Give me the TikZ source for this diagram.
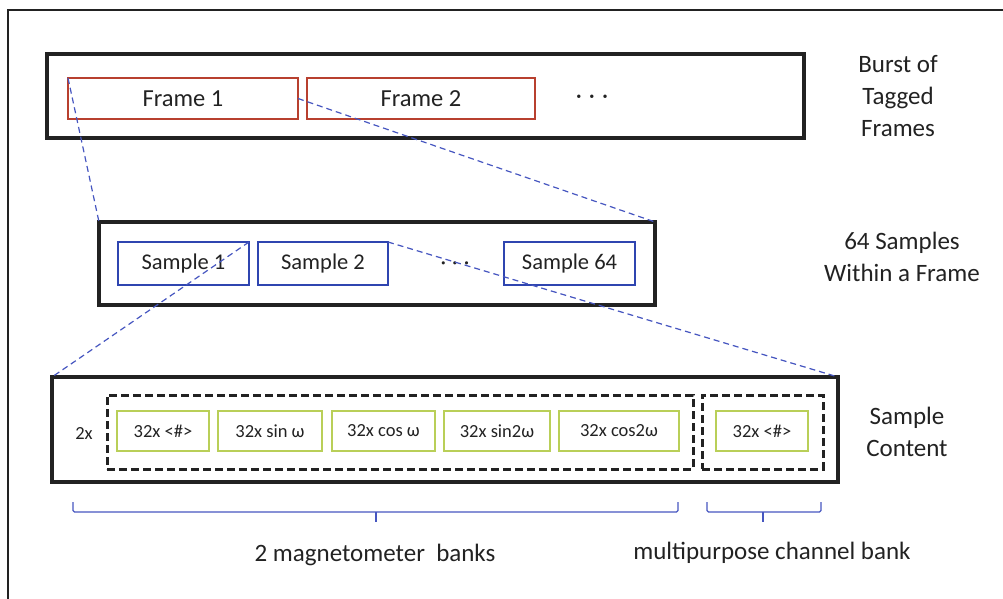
\documentclass[tikz,border=0pt]{standalone}
\usepackage{fontspec}
\setmainfont{Carlito}
\usepackage{tikz}
\usetikzlibrary{positioning, calc}
\definecolor{frameRed}{HTML}{B8402F}
\definecolor{sampleBlue}{HTML}{2F45B0}
\definecolor{chanGreen}{HTML}{B9CF58}
\definecolor{linkBlue}{HTML}{4656C0}
\definecolor{inkGrey}{HTML}{222222}

\begin{document}
\begin{tikzpicture}[
    x=1pt, y=-1pt,
    level/.style={
        draw=inkGrey, line width=3.2pt,
        inner sep=0pt, outer sep=0pt,
    },
    framebox/.style={
        draw=frameRed, line width=2.3pt,
        inner sep=0pt, outer sep=0pt,
        minimum height=41pt,
        font=\fontsize{24.5}{28}\selectfont, text=inkGrey,
    },
    samplebox/.style={
        draw=sampleBlue, line width=2.5pt,
        inner sep=0pt, outer sep=0pt,
        minimum width=131pt, minimum height=43pt,
        font=\fontsize{22.5}{26}\selectfont, text=inkGrey,
    },
    chanbox/.style={
        draw=chanGreen, line width=1.8pt,
        inner sep=0pt, outer sep=0pt,
        minimum height=40pt,
        font=\fontsize{18.5}{22}\selectfont, text=inkGrey,
    },
    bankbox/.style={
        draw=inkGrey, line width=3pt, dash pattern=on 8pt off 4pt,
        inner sep=0pt, outer sep=0pt,
        minimum height=74pt,
    },
    zoomline/.style={
        draw=linkBlue, line width=1.2pt, dash pattern=on 6pt off 4pt,
    },
    brace/.style={
        draw=linkBlue, line width=1.2pt, rounded corners=1.5pt,
    },
    annot/.style={
        font=\fontsize{25}{32}\selectfont, text=inkGrey,
        align=center,
    },
]
\useasboundingbox (0,0) rectangle (1003,599);

%--- Outer frame (only left and top edges show) ---
\draw[inkGrey, line width=1.8pt] (8,599) -- (8,10) -- (1003,10);

%--- Level 1: burst of tagged frames ---
\node[level, minimum width=757pt, minimum height=84pt] (burst) at (425.5,96) {};
\node[framebox, minimum width=230pt] (f1) at (183,98.5) {Frame 1};
\node[framebox, minimum width=228pt] (f2) at (421,98.5) {Frame 2};
\node[font=\fontsize{24}{28}\selectfont, text=inkGrey] (fdots) at (592,99) {·\hspace{7pt}·\hspace{7pt}·};
\node[annot] (burstlbl) at (898,96) {Burst of\\Tagged\\Frames};

%--- Level 2: samples within a frame ---
\node[level, minimum width=556pt, minimum height=83pt] (samples) at (377,263.5) {};
\node[samplebox] (s1) at (183.5,263.5) {Sample 1};
\node[samplebox, minimum width=130pt] (s2) at (323,263.5) {Sample 2};
\node[font=\fontsize{22}{26}\selectfont, text=inkGrey] (sdots) at (455,266) {·\hspace{6pt}·\hspace{6pt}·};
\node[samplebox] (s64) at (569.5,263.5) {Sample 64};
\node[annot] (samplelbl) at (902,257) {64 Samples\\Within a Frame};

%--- Level 3: sample content ---
\node[level, minimum width=786pt, minimum height=105pt] (content) at (445,429.5) {};
\node[font=\fontsize{18.5}{22}\selectfont, text=inkGrey] (twox) at (84,433) {2x};
\node[bankbox, minimum width=586pt] (bank1) at (400,432) {};
\node[chanbox, minimum width=92pt]  (cb1) at (163,431)   {32x <\#>};
\node[chanbox, minimum width=104pt] (cb2) at (270,431)   {32x sin ω};
\node[chanbox, minimum width=103pt] (cb3) at (383.5,431) {32x cos ω};
\node[chanbox, minimum width=106pt] (cb4) at (497,431)   {32x sin2ω};
\node[chanbox, minimum width=120pt] (cb5) at (619,431)   {32x cos2ω};
\node[bankbox, minimum width=121pt] (bank2) at (762.5,432) {};
\node[chanbox, minimum width=92pt]  (cb6) at (762,431)   {32x <\#>};
\node[annot] (contentlbl) at (907,432) {Sample\\Content};

%--- Zoom lines between levels ---
\draw[zoomline] (f1.north west) -- (samples.north west);
\draw[zoomline] (f1.east) -- (samples.north east);
\draw[zoomline] (s1.north east) -- (content.north west);
\draw[zoomline] (s2.north east) -- (content.north east);

%--- Braces and bank labels ---
\draw[brace] (73,502) |- (678,512) -- (678,502);
\draw[brace] (376,512) -- (376,522);
\draw[brace] (707,502) |- (821,512) -- (821,502);
\draw[brace] (763,512) -- (763,522);
\node[annot] (banklbl1) at (375,555) {2 magnetometer\ \ banks};
\node[annot] (banklbl2) at (772,553) {multipurpose channel bank};

\end{tikzpicture}
\end{document}
